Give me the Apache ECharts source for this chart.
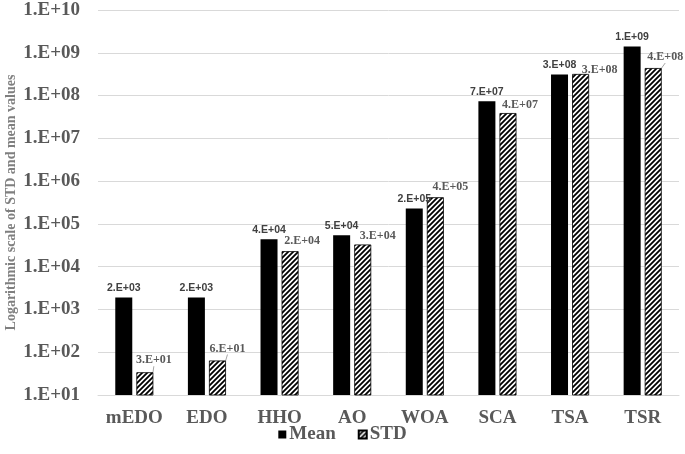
<!DOCTYPE html>
<html>
<head>
<meta charset="utf-8">
<script src="https://cdn.jsdelivr.net/npm/echarts@6/dist/echarts.min.js"></script>
<style>html,body{margin:0;padding:0;background:#fff}#c{width:685px;height:454px}</style>
</head>
<body>
<div id="c"></div>
<script>
const categories = ['mEDO', 'EDO', 'HHO', 'AO', 'WOA', 'SCA', 'TSA', 'TSR'];
const meanValues = [1.9e3, 1.9e3, 4.4e4, 5.4e4, 2.3e5, 7.4e7, 3.1e8, 1.4e9];
const stdValues = [34, 64, 2.3e4, 3.3e4, 4.2e5, 3.9e7, 3.2e8, 4.4e8];
const yTickMin = 10;
const yTickMax = 1e10;

// label placement tweaks (style only)
const stdLabelDx = [9, 10, 12, 15, 15, 12, 19, 12];
const stdLabelDy = [-2, -2, 0, 1, 0, 2, 6, -1];
const stdLabelLine = [true, true, false, false, false, false, false, true];

function sci(v) {
  let e = Math.floor(Math.log10(v));
  let m = Math.round(v / Math.pow(10, e));
  if (m >= 10) { m = 1; e += 1; }
  return m + '.E+' + (e < 10 ? '0' + e : '' + e);
}

const hatch = document.createElement('canvas');
hatch.width = 5; hatch.height = 5;
(function () {
  const g = hatch.getContext('2d');
  g.fillStyle = '#fff';
  g.fillRect(0, 0, 5, 5);
  g.strokeStyle = '#000';
  g.lineWidth = 1.8;
  g.beginPath();
  g.moveTo(-1, 6); g.lineTo(6, -1);
  g.moveTo(-6, 6); g.lineTo(1, -1);
  g.moveTo(4, 6); g.lineTo(11, -1);
  g.stroke();
})();

const chart = echarts.init(document.getElementById('c'));
const serif = '"Liberation Serif", "Times New Roman", serif';
chart.setOption({
  animation: false,
  grid: { left: 98, right: 6, top: 10, bottom: 59, outerBoundsMode: 'none', containLabel: false },
  legend: {
    top: 420, left: 'center',
    itemWidth: 8, itemHeight: 8, itemGap: 22,
    textStyle: { fontFamily: serif, fontWeight: 'bold', fontSize: 19, color: '#595959', padding: [0, 0, 0, -2] },
    data: [{ name: 'Mean', icon: 'rect' }, { name: 'STD', icon: 'rect' }]
  },
  xAxis: {
    type: 'category', data: categories,
    axisTick: { show: false },
    axisLine: { lineStyle: { color: '#d9d9d9' } },
    axisLabel: { interval: 0, fontFamily: serif, fontWeight: 'bold', fontSize: 19, color: '#595959', margin: 14 }
  },
  yAxis: {
    type: 'log', logBase: 10, min: yTickMin, max: yTickMax,
    name: 'Logarithmic scale of STD and mean values',
    nameLocation: 'middle', nameGap: 80, nameRotate: 90, nameMoveOverlap: false,
    nameTextStyle: { fontFamily: serif, fontWeight: 'bold', fontSize: 14, color: '#7f7f7f' },
    axisLine: { show: false }, axisTick: { show: false },
    splitLine: { lineStyle: { color: '#d9d9d9' } },
    axisLabel: { fontFamily: serif, fontWeight: 'bold', fontSize: 19, color: '#595959', margin: 18, formatter: v => sci(v) }
  },
  series: [
    {
      name: 'Mean', type: 'bar', data: meanValues, barWidth: 17, barGap: '24%',
      itemStyle: { color: '#000' },
      label: { show: true, position: 'top', distance: 4, formatter: p => sci(p.value), fontFamily: '"Liberation Sans", Arial, sans-serif', fontWeight: 'bold', fontSize: 10.5, color: '#404040' }
    },
    {
      name: 'STD', type: 'bar', barWidth: 17,
      data: stdValues.map((v, i) => ({ value: v, labelLine: { show: stdLabelLine[i] } })),
      itemStyle: { color: { image: hatch, repeat: 'repeat' }, borderColor: '#000', borderWidth: 0.8 },
      label: { show: true, position: 'top', distance: 4, formatter: p => sci(p.value), fontFamily: serif, fontWeight: 'bold', fontSize: 12, color: '#595959' },
      labelLayout: p => ({ dx: stdLabelDx[p.dataIndex], dy: stdLabelDy[p.dataIndex] }),
      labelLine: { show: true, lineStyle: { color: '#a6a6a6', width: 1 } }
    }
  ]
});
</script>
</body>
</html>
